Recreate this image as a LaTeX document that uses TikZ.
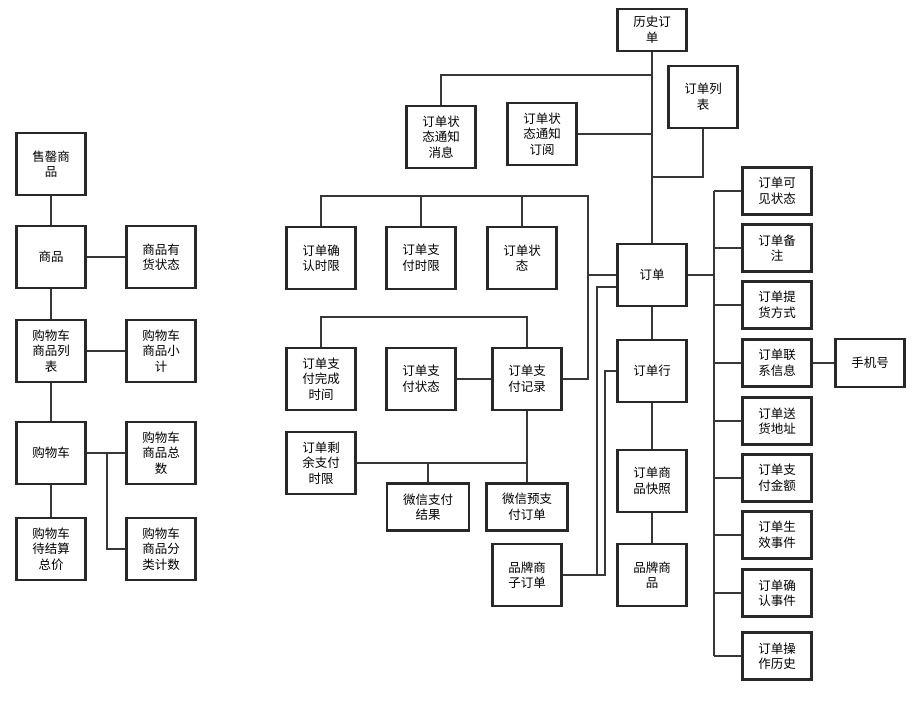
\documentclass[tikz,border=0pt]{standalone}
\usepackage{fontspec}
\newfontfamily\cjk{Noto Sans CJK SC}
\usetikzlibrary{positioning}
\definecolor{boxline}{RGB}{40,40,40}
\definecolor{linkgray}{RGB}{55,55,55}

\begin{document}
\begin{tikzpicture}[x=1pt,y=-1pt,
  box/.style={draw=boxline,line width=2.1pt,minimum width=69pt,minimum height=62pt,inner sep=1pt,align=center,font=\cjk\fontsize{12.5}{15.5}\selectfont},
  flat/.style={box,minimum height=47pt},
  link/.style={draw=linkgray,line width=1.9pt}]
\useasboundingbox (0,0) rectangle (913,706);
% Left: goods and cart
\node[box] (sq) at (51,164) {售罄商\\品};
\node[box] (sp) at (51,257) {商品};
\node[box] (yh) at (161,257) {商品有\\货状态};
\node[box] (gwlb) at (51,351) {购物车\\商品列\\表};
\node[box] (xj) at (161,351) {购物车\\商品小\\计};
\node[box] (gwc) at (51,453) {购物车};
\node[box] (zs) at (161,453) {购物车\\商品总\\数};
\node[box] (zj) at (51,549) {购物车\\待结算\\总价};
\node[box] (fl) at (161,549) {购物车\\商品分\\类计数};
\coordinate (flj) at (107,453);
\draw[link] (sq.south) -- (sp.north);
\draw[link] (sp.east) -- (yh.west);
\draw[link] (sp.south) -- (gwlb.north);
\draw[link] (gwlb.east) -- (xj.west);
\draw[link] (gwlb.south) -- (gwc.north);
\draw[link] (gwc.east) -- (zs.west);
\draw[link] (gwc.south) -- (zj.north);
\draw[link] (flj) |- (fl.west);
% Middle: order and its parts
\node[box,minimum height=42pt] (lsdd) at (652,30) {历史订\\单};
\node[box] (tzxx) at (441,137) {订单状\\态通知\\消息};
\node[box] (tzdy) at (542,134) {订单状\\态通知\\订阅};
\node[box] (ddlb) at (703,97) {订单列\\表};
\node[box] (dd) at (652,275) {订单};
\node[box] (qrsx) at (321,258) {订单确\\认时限};
\node[box] (zfsx) at (421,258) {订单支\\付时限};
\node[box] (ddzt) at (522,258) {订单状\\态};
\node[box] (wcsj) at (321,379) {订单支\\付完成\\时间};
\node[box] (zfzt) at (421,379) {订单支\\付状态};
\node[box] (zfjl) at (527,379) {订单支\\付记录};
\node[box] (sysx) at (321,463) {订单剩\\余支付\\时限};
\node[flat,minimum width=82pt] (wxjg) at (428,507) {微信支付\\结果};
\node[flat,minimum width=81pt] (wxyz) at (527,507) {微信预支\\付订单};
\node[box] (ddh) at (652,371) {订单行};
\node[box] (kz) at (652,481) {订单商\\品快照};
\node[box] (ppsp) at (652,575) {品牌商\\品};
\node[box] (zdd) at (527,575) {品牌商\\子订单};
\coordinate (tzj) at (652,75);
\coordinate (lbj) at (652,177);
\coordinate (zsbus) at (588,196);
\coordinate (jlbus) at (527,317);
\coordinate (wxj) at (428,463);
\coordinate (zdj1) at (597,575);
\coordinate (zdj2) at (605,575);
\draw[link] (lsdd.south) -- (dd.north);
\draw[link] (tzj) -| (tzxx.north);
\draw[link] (tzdy.east) -- (tzdy.east -| lsdd.south);
\draw[link] (ddlb.south) |- (lbj);
\draw[link] (qrsx.north) |- (zsbus) |- (dd.west);
\draw[link] (zfsx.north) -- (zfsx.north |- zsbus);
\draw[link] (ddzt.north) -- (ddzt.north |- zsbus);
\draw[link] (zfjl.east) -| (dd.west -| zsbus);
\draw[link] (wcsj.north) |- (jlbus) -- (zfjl.north);
\draw[link] (zfzt.east) -- (zfjl.west);
\draw[link] (zfjl.south) -- (wxyz.north);
\draw[link] (sysx.east) -- (sysx.east -| zfjl.south);
\draw[link] (wxj) -- (wxjg.north);
\draw[link] (dd.south) -- (ddh.north);
\draw[link] (ddh.south) -- (kz.north);
\draw[link] (kz.south) -- (ppsp.north);
\draw[link] ([yshift=-12pt]dd.west) -| (zdj1) -- (zdd.east);
\draw[link] (ddh.west) -| (zdj2) -- (zdj1);
% Right: order attributes
\node[flat] (kjzt) at (777,191) {订单可\\见状态};
\node[flat] (bz) at (777,248) {订单备\\注};
\node[flat] (thfs) at (777,305) {订单提\\货方式};
\node[flat] (lxxx) at (777,363) {订单联\\系信息};
\node[flat] (shdz) at (777,421) {订单送\\货地址};
\node[flat] (zfje) at (777,478) {订单支\\付金额};
\node[flat] (sxsj) at (777,535) {订单生\\效事件};
\node[flat] (qrsj) at (777,593) {订单确\\认事件};
\node[flat] (czls) at (777,656) {订单操\\作历史};
\node[flat,minimum height=48pt] (sjh) at (870,363) {手机号};
\coordinate (rbus) at (714,275);
\draw[link] (dd.east) -- (rbus);
\draw[link] (rbus |- kjzt.west) -- (rbus |- czls.west);
\foreach \n in {kjzt,bz,thfs,lxxx,shdz,zfje,sxsj,qrsj,czls}
  \draw[link] (\n.west) -- (\n.west -| rbus);
\draw[link] (lxxx.east) -- (sjh.west);
\end{tikzpicture}
\end{document}
